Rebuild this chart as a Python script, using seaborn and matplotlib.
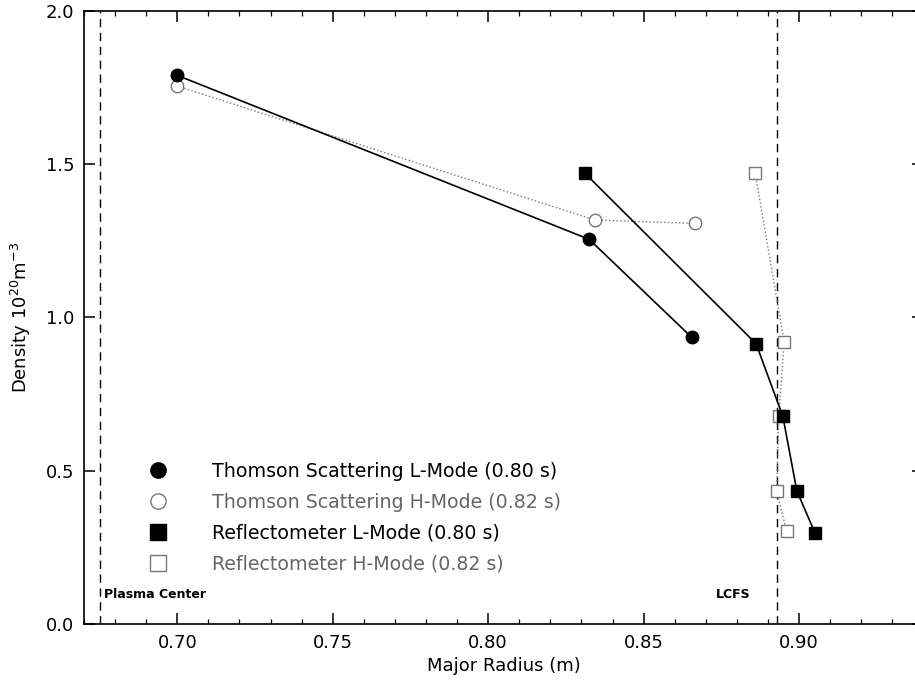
import matplotlib
matplotlib.use("Agg")
import matplotlib.pyplot as plt
from matplotlib.lines import Line2D
from matplotlib.ticker import MultipleLocator
import seaborn as sns
import pandas as pd

# ---- data ----
ts_l_r = [0.700, 0.8325, 0.8655]
ts_l_n = [1.79, 1.255, 0.935]

ts_h_r = [0.700, 0.8344, 0.8666]
ts_h_n = [1.755, 1.318, 1.307]

rf_l_r = [0.8312, 0.8862, 0.8948, 0.8993, 0.9051]
rf_l_n = [1.470, 0.914, 0.677, 0.434, 0.298]

rf_h_r = [0.8859, 0.8952, 0.8935, 0.8928, 0.8960]
rf_h_n = [1.470, 0.921, 0.680, 0.433, 0.302]

series_labels = [
    "Thomson Scattering L-Mode (0.80 s)",
    "Thomson Scattering H-Mode (0.82 s)",
    "Reflectometer L-Mode (0.80 s)",
    "Reflectometer H-Mode (0.82 s)",
]

plasma_center_r = 0.675
lcfs_r = 0.893

x_ticks = [0.70, 0.75, 0.80, 0.85, 0.90]
y_ticks = [0.0, 0.5, 1.0, 1.5, 2.0]

# ---- styling ----
sns.set_style("ticks")
plt.rcParams["font.family"] = ["DejaVu Sans"]
plt.rcParams["text.color"] = "black"
plt.rcParams["axes.labelcolor"] = "black"
plt.rcParams["xtick.color"] = "black"
plt.rcParams["ytick.color"] = "black"

fig = plt.figure(figsize=(9.15, 6.85), dpi=100)
ax = fig.add_axes([84 / 915, 61 / 685, 839.4 / 915, 613 / 685])

styles = [
    dict(marker="o", color="black", linestyle="-", lw=1.2, mfc="black", mec="black"),
    dict(marker="o", color="#777777", linestyle=":", lw=1.0, mfc="white", mec="#777777"),
    dict(marker="s", color="black", linestyle="-", lw=1.2, mfc="black", mec="black"),
    dict(marker="s", color="#777777", linestyle=":", lw=1.0, mfc="white", mec="#777777"),
]
xs = [ts_l_r, ts_h_r, rf_l_r, rf_h_r]
ys = [ts_l_n, ts_h_n, rf_l_n, rf_h_n]
order = [1, 3, 0, 2]  # draw H-mode first so L-mode sits on top

for i in order:
    df = pd.DataFrame({"r": xs[i], "n": ys[i]})
    st = styles[i]
    sns.lineplot(data=df, x="r", y="n", ax=ax, sort=False, estimator=None,
                 color=st["color"], linestyle=st["linestyle"], linewidth=st["lw"],
                 marker=st["marker"], markersize=9, markerfacecolor=st["mfc"],
                 markeredgecolor=st["mec"], markeredgewidth=1.0, zorder=3 if i in (0, 2) else 2)

# reference lines
ax.axvline(plasma_center_r, color="black", lw=1.0, linestyle=(0, (6, 4)), zorder=1)
ax.axvline(lcfs_r, color="black", lw=1.0, linestyle=(0, (6, 4)), zorder=1)
ax.text(plasma_center_r + 0.0015, 0.095, "Plasma Center", fontsize=9, fontweight="bold",
        ha="left", va="center")
ax.text(lcfs_r - 0.0085, 0.095, "LCFS", fontsize=9, fontweight="bold",
        ha="right", va="center")

# axes
ax.set_xlim(0.67, 0.94)
ax.set_ylim(0.0, 2.0)
ax.set_xticks(x_ticks)
ax.set_xticklabels([f"{v:.2f}" for v in x_ticks])
ax.set_yticks(y_ticks)
ax.set_yticklabels([f"{v:.1f}" for v in y_ticks])
ax.xaxis.set_minor_locator(MultipleLocator(0.01))
ax.tick_params(axis="both", which="major", direction="in", length=8, width=1.1,
               labelsize=13, top=True, right=True, pad=7)
ax.tick_params(axis="x", which="minor", direction="in", length=3.5, width=0.9,
               top=True, bottom=True)
for sp in ax.spines.values():
    sp.set_linewidth(1.2)
    sp.set_color("black")

ax.set_xlabel("Major Radius (m)", fontsize=13, labelpad=4)
ax.set_ylabel(r"Density 10$^{20}$m$^{-3}$", fontsize=13, labelpad=9)

# legend
handles = []
for i in range(4):
    st = styles[i]
    handles.append(Line2D([], [], linestyle="none", marker=st["marker"], markersize=11,
                          markerfacecolor=st["mfc"], markeredgecolor=st["mec"],
                          markeredgewidth=1.0))
leg = ax.legend(handles, series_labels, loc="upper left",
                bbox_to_anchor=((149 - 84) / 839.4, (624 - 462) / 613),
                frameon=False, fontsize=13.7, handlelength=0.95, handletextpad=2.35,
                labelspacing=0.62, borderaxespad=0, borderpad=0)
for t, c in zip(leg.get_texts(), ["black", "#666666", "black", "#666666"]):
    t.set_color(c)

fig.savefig("out.png", dpi=100)
